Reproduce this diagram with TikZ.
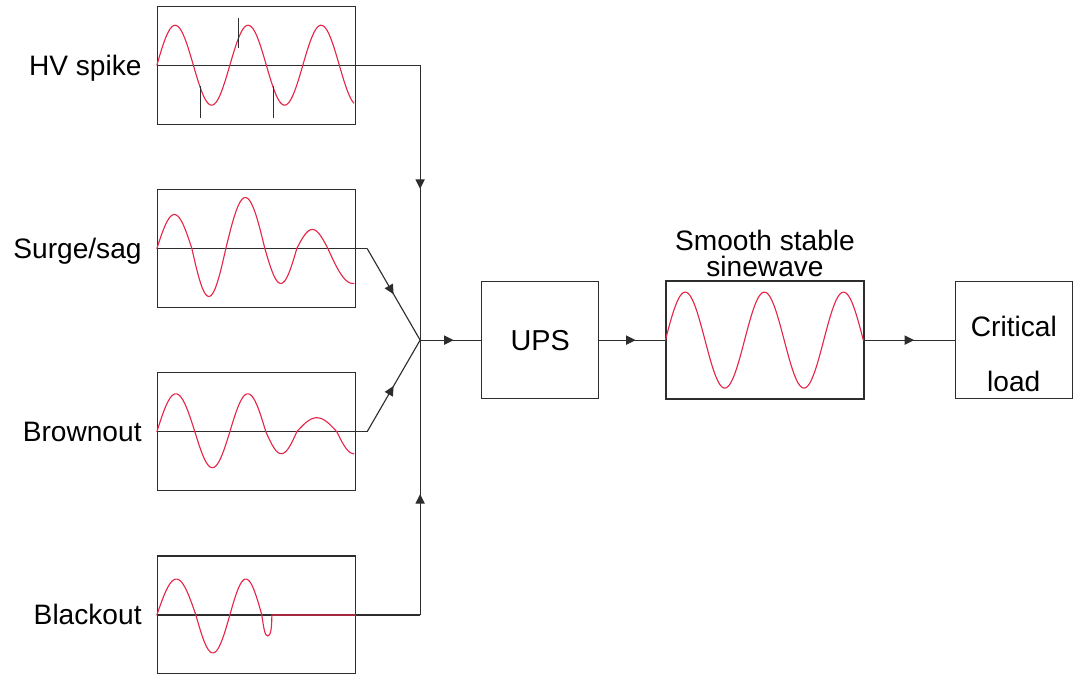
\documentclass[tikz,border=0pt]{standalone}
\usepackage{fontspec}
\setmainfont{Liberation Sans}
\usetikzlibrary{arrows.meta, positioning, calc, decorations.markings}
\definecolor{wavered}{RGB}{229, 38, 72}
\definecolor{linegrey}{RGB}{45, 45, 45}

\begin{document}
\begin{tikzpicture}[
    wavebox/.style={draw=linegrey, line width=0.9pt, minimum width=4.95cm,
                    minimum height=2.95cm, inner sep=0pt},
    unitbox/.style={draw=linegrey, line width=0.9pt, minimum width=2.925cm,
                    minimum height=2.925cm, inner sep=0pt,
                    font=\fontsize{20.5}{24}\selectfont},
    sourcetext/.style={font=\fontsize{20}{24}\selectfont, text height=14pt,
                       text depth=0pt, inner sep=0pt},
    wave/.style={draw=wavered, line width=0.8pt, line cap=round},
    conn/.style={color=linegrey, line width=0.8pt},
    midarrow/.style={postaction={decorate}, decoration={markings,
                     mark=at position #1 with {\arrow{Triangle[length=2.4mm, width=2.3mm]}}}},
    midarrow/.default=0.55,
]
    \useasboundingbox (0,0) rectangle (26.85,-16.825);

    % disturbances on the mains
    \node[wavebox] (hv) at (6.4125,-1.63) {};
    \node[wavebox, below=1.6cm of hv] (surge) {};
    \node[wavebox, below=1.6cm of surge] (brownout) {};
    \node[wavebox, below=1.6cm of brownout] (blackout) {};

    \node[sourcetext, left=0.375cm of hv] (hvtext) {HV spike};
    \node[sourcetext, left=0.375cm of surge] (surgetext) {Surge/sag};
    \node[sourcetext, left=0.375cm of brownout] (browntext) {Brownout};
    \node[sourcetext, left=0.375cm of blackout] (blacktext) {Blackout};

    \coordinate (junction) at ($(surge.east)!0.5!(brownout.east) + (1.6,0)$);
    \coordinate (hvbend) at (hv.east -| junction);
    \coordinate (surgebend) at ([xshift=0.275cm]surge.east);
    \coordinate (brownbend) at ([xshift=0.275cm]brownout.east);
    \coordinate (blackbend) at (blackout.east -| junction);

    \node[unitbox, right=1.525cm of junction] (ups) {UPS};
    \node[wavebox, right=1.65cm of ups] (sine) {};
    \node[unitbox, right=2.25cm of sine] (load) {};
    \node[font=\fontsize{20}{39}\selectfont, align=center, inner sep=0pt]
        (loadtext) at ([yshift=-0.35cm]load.center) {Critical\\load};
    \node[above=0.08cm of sine, align=center, inner sep=0pt,
          font=\fontsize{20}{19}\selectfont] (sinetitle) {Smooth stable\\sinewave};

    % axes
    \foreach \n in {hv, surge, brownout, blackout}
        \draw[conn] (\n.west) -- (\n.east);

    % waveforms
    \begin{scope}[shift={(hv.west)}, x=0.025cm, y=0.025cm]
        \draw[wave] plot[domain=0:197, samples=120] (\x, {40*sin(\x/73*360)});
        \draw[conn] (82,17) -- (82,47);
        \foreach \sx in {44, 117}
            \draw[conn] (\sx,-21) -- (\sx,-53);
    \end{scope}
    \begin{scope}[shift={(surge.west)}, x=0.025cm, y=0.025cm]
        \foreach \s/\w/\a/\e in {0/35/34/180, 35/34/-48/180, 69/39/51/180,
                                 108/32/-35/180, 140/31/19/180, 171/50/-35/94}
            \draw[wave] plot[domain=0:\e, samples=24] ({\s+\w*\x/180}, {\a*sin(\x)});
    \end{scope}
    \begin{scope}[shift={(brownout.west)}, x=0.025cm, y=0.025cm]
        \foreach \s/\w/\a/\e in {0/38/38/180, 38/35/-36/180, 73/36/38/180,
                                 109/31/-22/180, 140/40/14/180, 180/34/-22/90}
            \draw[wave] plot[domain=0:\e, samples=24] ({\s+\w*\x/180}, {\a*sin(\x)});
    \end{scope}
    \begin{scope}[shift={(blackout.west)}, x=0.025cm, y=0.025cm]
        \foreach \s/\w/\a in {0/39/36, 39/34/-38, 73/32/36}
            \draw[wave] plot[domain=0:180, samples=24] ({\s+\w*\x/180}, {\a*sin(\x)});
        \draw[wave] (105,0) .. controls (107,-14) and (108,-21) .. (111,-21)
            .. controls (114,-21) and (115,-12) .. (115,0) -- (199,0);
    \end{scope}
    \begin{scope}[shift={(sine.west)}, x=0.025cm, y=0.025cm]
        \draw[wave] plot[domain=0:198, samples=140] (\x, {48*sin(\x/79.2*360)});
    \end{scope}

    % connectors
    \draw[conn] (hv.east) -- (hvbend);
    \draw[conn, midarrow=0.45] (hvbend) -- (junction);
    \draw[conn] (surge.east) -- (surgebend);
    \draw[conn, midarrow=0.5] (surgebend) -- (junction);
    \draw[conn] (brownout.east) -- (brownbend);
    \draw[conn, midarrow=0.5] (brownbend) -- (junction);
    \draw[conn] (blackout.east) -- (blackbend);
    \draw[conn, midarrow=0.44] (blackbend) -- (junction);
    \draw[conn, midarrow] (junction) -- (ups);
    \draw[conn, midarrow] (ups) -- (sine);
    \draw[conn, midarrow] (sine) -- (load);
\end{tikzpicture}
\end{document}
